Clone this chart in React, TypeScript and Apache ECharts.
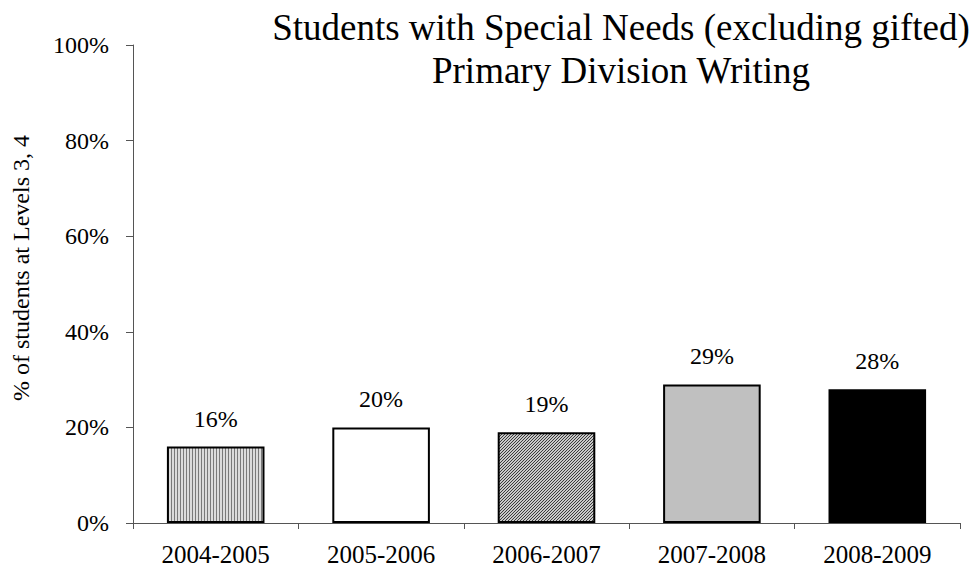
import React, { useEffect, useRef } from "react";
import * as echarts from "echarts";

const categories = ["2004-2005", "2005-2006", "2006-2007", "2007-2008", "2008-2009"];
const values = [16, 20, 19, 29, 28];
const yTicks = [0, 20, 40, 60, 80, 100];
const titleLines = ["Students with Special Needs (excluding gifted)", "Primary Division Writing"];
const yAxisName = "% of students at Levels 3, 4";

function makeVertical(): HTMLCanvasElement {
  const c = document.createElement("canvas");
  c.width = 3;
  c.height = 3;
  const ctx = c.getContext("2d")!;
  ctx.fillStyle = "#dcdcdc";
  ctx.fillRect(0, 0, 3, 3);
  ctx.fillStyle = "#7a7a7a";
  ctx.fillRect(0, 0, 1, 3);
  return c;
}

function makeDiagonal(): HTMLCanvasElement {
  const c = document.createElement("canvas");
  c.width = 3;
  c.height = 3;
  const ctx = c.getContext("2d")!;
  ctx.fillStyle = "#c8c8c8";
  ctx.fillRect(0, 0, 3, 3);
  ctx.fillStyle = "#3a3a3a";
  for (let i = 0; i < 3; i++) ctx.fillRect(i, 2 - i, 1, 1);
  return c;
}

export default function App() {
  const ref = useRef<HTMLDivElement>(null);
  useEffect(() => {
    if (!ref.current) return;
    const chart = echarts.init(ref.current, undefined, { renderer: "svg" });
    const font = "'Liberation Serif', 'Times New Roman', serif";
    const fills: any[] = [
      { image: makeVertical(), repeat: "repeat" },
      "#ffffff",
      { image: makeDiagonal(), repeat: "repeat" },
      "#c0c0c0",
      "#000000",
    ];
    chart.setOption({
      animation: false,
      backgroundColor: "#ffffff",
      title: {
        text: titleLines.join("\n"),
        left: 616,
        top: 1,
        textAlign: "center",
        textStyle: {
          fontFamily: font,
          fontSize: 37,
          fontWeight: "normal",
          color: "#000",
          lineHeight: 43,
        },
      },
      graphic: [
        {
          type: "text",
          x: 21,
          y: 268,
          rotation: Math.PI / 2,
          style: {
            text: yAxisName,
            fontFamily: font,
            fontSize: 24,
            fill: "#000",
            align: "center",
            verticalAlign: "middle",
          },
        },
      ],
      grid: { left: 133, right: 14, top: 45, bottom: 50 },
      xAxis: {
        type: "category",
        data: categories,
        axisLine: { lineStyle: { color: "#555", width: 1 } },
        axisTick: { show: true, alignWithLabel: false, length: 6, lineStyle: { color: "#555" } },
        axisLabel: { fontFamily: font, fontSize: 25, color: "#000", margin: 19 },
      },
      yAxis: {
        type: "value",
        min: yTicks[0],
        max: yTicks[yTicks.length - 1],
        interval: 20,
        axisLine: { show: true, lineStyle: { color: "#555", width: 1 } },
        axisTick: { show: true, length: 7, lineStyle: { color: "#555" } },
        splitLine: { show: false },
        axisLabel: {
          fontFamily: font,
          fontSize: 24,
          color: "#000",
          margin: 24,
          formatter: (v: number) => v + "%",
        },
      },
      series: [
        {
          type: "bar",
          barCategoryGap: "41%",
          data: values.map((v, i) => ({
            value: v,
            itemStyle: { color: fills[i], borderColor: "#000", borderWidth: 2 },
          })),
          label: {
            show: true,
            position: "top",
            distance: 16,
            formatter: "{c}%",
            fontFamily: font,
            fontSize: 24,
            color: "#000",
          },
        },
      ],
    });
    return () => chart.dispose();
  }, []);
  return <div ref={ref} style={{ width: 974, height: 573, position: "absolute", left: 0, top: 0 }} />;
}
